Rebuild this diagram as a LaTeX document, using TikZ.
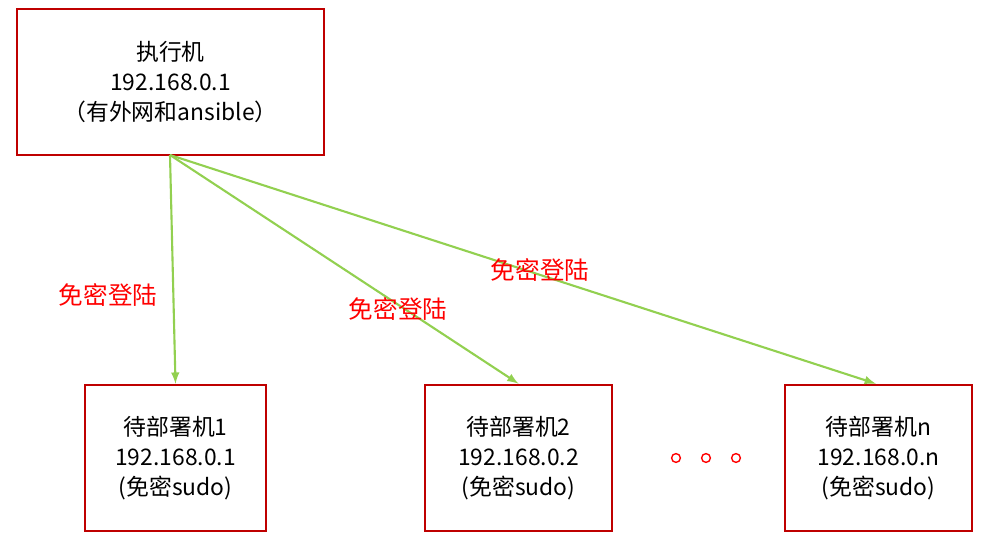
\documentclass[tikz,border=0pt]{standalone}
\usepackage{fontspec}
\setmainfont{Noto Sans CJK SC}
\definecolor{BoxRed}{rgb}{0.75,0.0,0.0}
\definecolor{LinkGreen}{rgb}{0.573,0.816,0.314}
\tikzstyle{host-base}=[rectangle,
                       draw=BoxRed,
                       line width=1.5pt,
                       align=center,
                       font=\fontsize{13}{17}\selectfont,
                      ]
\tikzstyle{host}=[host-base, minimum width=3.62cm, minimum height=2.92cm]
\tikzstyle{master}=[host-base, minimum width=6.14cm, minimum height=2.92cm]
\tikzstyle{login}=[text=red, font=\fontsize{14}{17}\selectfont]
\begin{document}
\begin{tikzpicture}[x=0.02cm, y=-0.02cm]
\useasboundingbox (0,0) rectangle (985,547);
\node at (170.5, 82) (exec_host)  [master] {执行机\\192.168.0.1\\（有外网和ansible）};
\node at (175.5,458) (deploy_1)   [host, minimum width=3.62cm] {待部署机1\\192.168.0.1\\(免密sudo)};
\node at (518.5,458) (deploy_2)   [host, minimum width=3.74cm] {待部署机2\\192.168.0.2\\(免密sudo)};
\node at (878.5,458) (deploy_n)   [host, minimum width=3.74cm] {待部署机n\\192.168.0.n\\(免密sudo)};

\coordinate (src) at (170,155);
\draw[-latex, LinkGreen, line width=1.2pt] (src) -- (deploy_1.north);
\draw[-latex, LinkGreen, line width=1.2pt] (src) -- (deploy_2.north);
\draw[-latex, LinkGreen, line width=1.2pt] (src) -- ([xshift=-1.5pt]deploy_n.north);

\node at (108,295) (login_1) [login] {免密登陆};
\node at (398,309) (login_2) [login] {免密登陆};
\node at (540,270) (login_n) [login] {免密登陆};

\foreach \i/\x in {1/676, 2/706, 3/736}
  \node at (\x,458) (dot_\i) [circle, draw=red, line width=0.8pt, inner sep=0pt, minimum size=5pt] {};
\end{tikzpicture}
\end{document}
